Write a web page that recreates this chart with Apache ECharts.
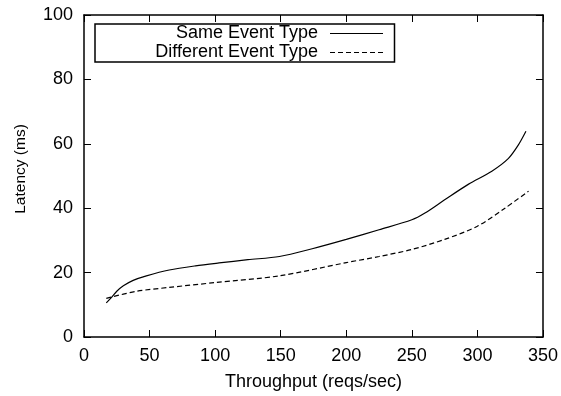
<!DOCTYPE html>
<html>
<head>
<meta charset="utf-8">
<script src="https://cdn.jsdelivr.net/npm/echarts@6/dist/echarts.min.js"></script>
<style>html,body{margin:0;padding:0;background:#fff;}#c{width:561px;height:396px;}</style>
</head>
<body>
<div id="c"></div>
<script>
const seriesNames = ['Same Event Type', 'Different Event Type'];
const sameX = [17, 21, 25, 30, 37.5, 47.6, 65, 85, 103, 125, 149, 174, 200, 225, 250, 260, 275, 293, 311, 323.5, 331, 337];
const sameY = [10.6, 12.3, 14.2, 15.9, 17.6, 19.0, 20.8, 22.1, 23.0, 24.0, 25.0, 27.4, 30.3, 33.3, 36.4, 38.5, 42.6, 47.4, 51.5, 55.4, 59.5, 63.9];
const diffX = [17, 40, 65, 100, 149, 200, 225, 250, 275, 300, 321, 339];
const diffY = [12.0, 14.2, 15.4, 16.9, 19.0, 23.1, 25.0, 27.2, 30.3, 34.4, 40.0, 45.3];
const xTicks = {min: 0, max: 350, interval: 50};
const yTicks = {min: 0, max: 100, interval: 20};

const font = 'Liberation Sans, Arial, Helvetica, sans-serif';
const chart = echarts.init(document.getElementById('c'), null, {renderer: 'canvas'});
function axLine() { return {show: true, onZero: false, lineStyle: {color: '#000', width: 1.5}}; }
function tick() { return {show: true, inside: true, length: 7, lineStyle: {color: '#000', width: 1}}; }
chart.setOption({
  backgroundColor: '#fff',
  animation: false,
  grid: {left: 84, right: 16, top: 15, bottom: 56},
  legend: {
    orient: 'vertical', left: 95, top: 24, align: 'right',
    itemWidth: 53, itemHeight: 19, itemGap: 0,
    borderColor: '#000', borderWidth: 1.5, borderRadius: 0,
    padding: [0, 11, 0, 5],
    itemStyle: {opacity: 0},
    lineStyle: {width: 1},
    data: seriesNames,
    textStyle: {fontFamily: font, fontSize: 18, color: '#000', width: 218, align: 'right', lineHeight: 19, padding: [0, 7, 0, 0]}
  },
  xAxis: [{
    type: 'value', position: 'bottom', min: xTicks.min, max: xTicks.max, interval: xTicks.interval,
    name: 'Throughput (reqs/sec)', nameLocation: 'middle', nameGap: 36,
    nameTextStyle: {fontFamily: font, fontSize: 18, color: '#000'},
    axisLine: axLine(), axisTick: tick(), splitLine: {show: false},
    axisLabel: {fontFamily: font, fontSize: 18, color: '#000', margin: 10}
  }, {
    type: 'value', position: 'top', min: xTicks.min, max: xTicks.max, interval: xTicks.interval,
    axisLine: axLine(), axisTick: tick(), splitLine: {show: false}, axisLabel: {show: false}
  }],
  yAxis: [{
    type: 'value', position: 'left', min: yTicks.min, max: yTicks.max, interval: yTicks.interval,
    name: 'Latency (ms)', nameLocation: 'middle', nameGap: 55,
    nameTextStyle: {fontFamily: font, fontSize: 15.5, color: '#000', padding: [0, 0, 0, 14]},
    axisLine: axLine(), axisTick: tick(), splitLine: {show: false},
    axisLabel: {fontFamily: font, fontSize: 18, color: '#000', margin: 11}
  }, {
    type: 'value', position: 'right', min: yTicks.min, max: yTicks.max, interval: yTicks.interval,
    axisLine: axLine(), axisTick: tick(), splitLine: {show: false}, axisLabel: {show: false}
  }],
  series: [{
    name: seriesNames[0], type: 'line', smooth: 0.3, symbol: 'none',
    lineStyle: {color: '#000', width: 1.2, type: 'solid'}, itemStyle: {color: '#000'},
    data: sameX.map((x, i) => [x, sameY[i]])
  }, {
    name: seriesNames[1], type: 'line', smooth: 0.3, symbol: 'none',
    lineStyle: {color: '#000', width: 1.2, type: [5, 3]}, itemStyle: {color: '#000'},
    data: diffX.map((x, i) => [x, diffY[i]])
  }]
});
</script>
</body>
</html>
